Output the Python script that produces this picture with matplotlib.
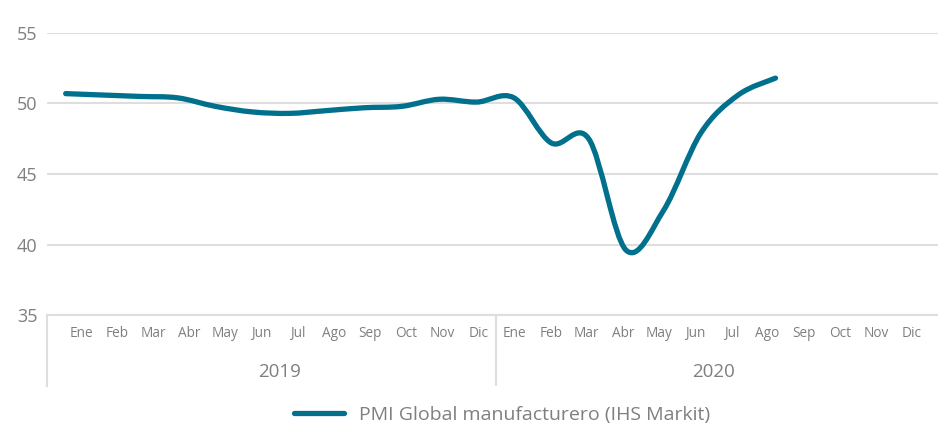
import matplotlib
matplotlib.use('Agg')
import matplotlib.pyplot as plt
from matplotlib.path import Path
from matplotlib.patches import PathPatch
from matplotlib.lines import Line2D

plt.rcParams['font.family'] = ['Open Sans', 'DejaVu Sans']

# data
months = ['Ene', 'Feb', 'Mar', 'Abr', 'May', 'Jun', 'Jul', 'Ago', 'Sep', 'Oct', 'Nov', 'Dic']
years = ['2019', '2020']
pmi = [50.7, 50.6, 50.5, 50.4, 49.8, 49.4, 49.3, 49.5, 49.7, 49.8, 50.3, 50.1,
       50.4, 47.2, 47.5, 39.6, 42.4, 47.9, 50.6, 51.8]
series_name = 'PMI Global manufacturero (IHS Markit)'
y_ticks = [35, 40, 45, 50, 55]

line_color = '#00708c'
grid_color = '#dedede'
text_color = '#7f7f7f'
W, H = 938, 424


def smooth_path(xs, ys):
    # catmull-rom style bezier through the data points (like a smoothed excel line)
    n = len(xs)
    verts = [(xs[0], ys[0])]
    codes = [Path.MOVETO]
    for i in range(n - 1):
        x0, y0 = (xs[i - 1], ys[i - 1]) if i > 0 else (xs[i], ys[i])
        x1, y1 = xs[i], ys[i]
        x2, y2 = xs[i + 1], ys[i + 1]
        x3, y3 = (xs[i + 2], ys[i + 2]) if i + 2 < n else (x2, y2)
        c1 = (x1 + (x2 - x0) / 6, y1 + (y2 - y0) / 6)
        c2 = (x2 - (x3 - x1) / 6, y2 - (y3 - y1) / 6)
        verts += [c1, c2, (x2, y2)]
        codes += [Path.CURVE4] * 3
    return Path(verts, codes)


fig = plt.figure(figsize=(W / 100, H / 100), dpi=100, facecolor='white')

# main plot area
ax = fig.add_axes([47 / W, 1 - 315 / H, 1 - 47 / W, (315 - 33) / H])
ax.set_ylim(35, 55)
ax.set_xlim(-0.5, 23.35)
ax.set_yticks(y_ticks)
ax.set_xticks([])
for s in ax.spines.values():
    s.set_visible(False)
ax.grid(axis='y', color=grid_color, linewidth=1.5)
ax.set_axisbelow(True)
ax.tick_params(axis='y', length=0, pad=7, labelsize=13, labelcolor=text_color)

xs = list(range(len(pmi)))
patch = PathPatch(smooth_path(xs, pmi), fill=False, edgecolor=line_color,
                  linewidth=3.8, capstyle='round', joinstyle='round', zorder=3)
ax.add_patch(patch)

# category band below
cat = fig.add_axes([47 / W, 1 - 386 / H, 1 - 47 / W, (386 - 315) / H])
cat.set_xlim(-0.94, 23.72)
cat.set_ylim(0, 1)
cat.set_xticks([])
cat.set_yticks([])
for k in ['right', 'bottom']:
    cat.spines[k].set_visible(False)
for k in ['left', 'top']:
    cat.spines[k].set_color(grid_color)
    cat.spines[k].set_linewidth(1.5)
cat.patch.set_alpha(0)

for yi, yr in enumerate(years):
    for mi, m in enumerate(months):
        cat.text(yi * 12 + mi, 0.74, m, ha='center', va='center',
                 fontsize=9.8, color=text_color)
    if yi > 0:
        cat.axvline(yi * 12 - 0.5, color=grid_color, linewidth=1.5)
    cat.text(yi * 12 + 5.5, 0.2, yr, ha='center', va='center',
             fontsize=13.5, color=text_color)

handle = Line2D([], [], color=line_color, linewidth=3.8, solid_capstyle='round')
fig.legend([handle], [series_name], loc='center', bbox_to_anchor=(502 / W, 1 - 415 / H),
           frameon=False, fontsize=14, handlelength=2.6, handletextpad=0.75,
           labelcolor=text_color)

fig.savefig('out.png', dpi=100, facecolor='white')
